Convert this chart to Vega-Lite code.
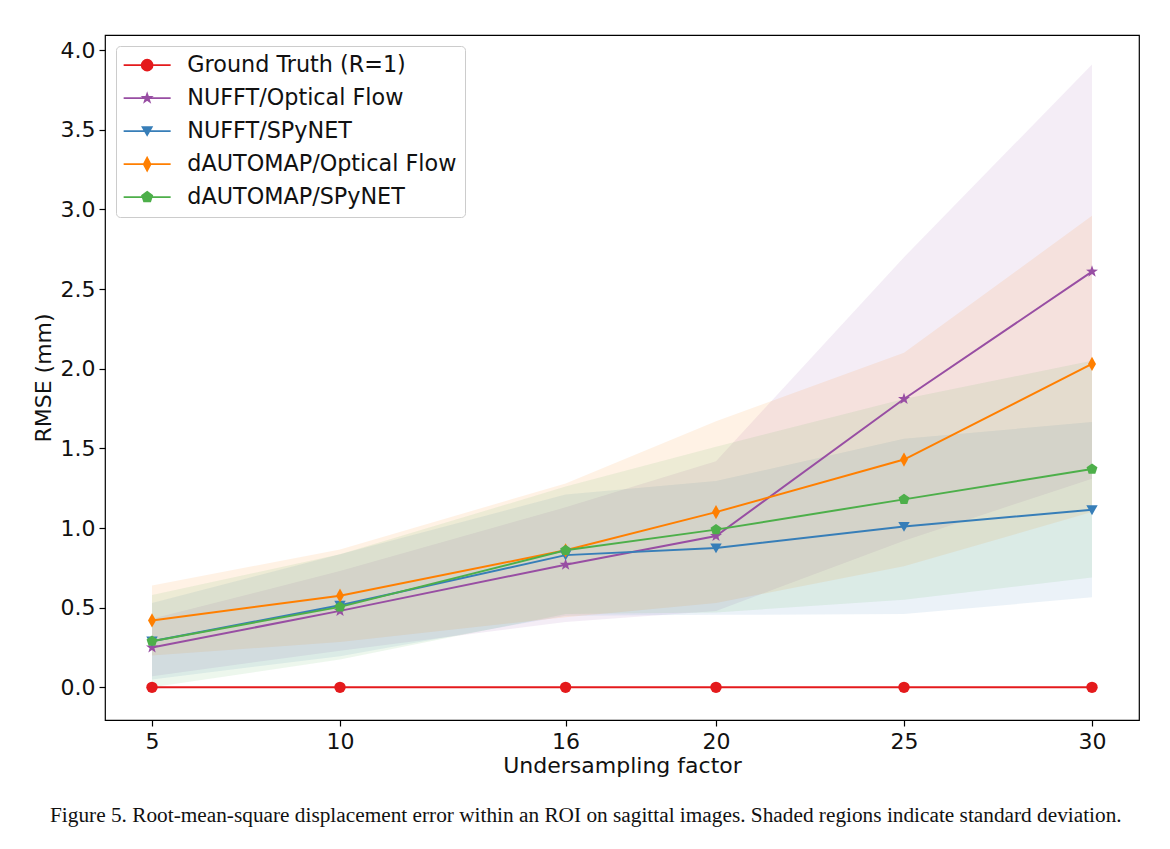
{
  "$schema": "https://vega.github.io/schema/vega-lite/v6.json",
  "width": 1034,
  "height": 685,
  "autosize": {"type": "none"},
  "padding": {"left": 105, "top": 35, "right": 31, "bottom": 129},
  "background": "white",
  "title": {
    "text": "Figure 5. Root-mean-square displacement error within an ROI on sagittal images. Shaded regions indicate standard deviation.",
    "orient": "bottom",
    "anchor": "start",
    "frame": "group",
    "dx": -55,
    "offset": 29,
    "font": "Liberation Serif",
    "fontSize": 21.3,
    "fontWeight": "normal",
    "color": "#111111"
  },
  "config": {
    "view": {"stroke": "black", "strokeWidth": 1.2},
    "axis": {
      "labelFont": "DejaVu Sans",
      "labelFontSize": 22,
      "labelColor": "#111111",
      "titleFont": "DejaVu Sans",
      "titleFontSize": 22,
      "titleFontWeight": "normal",
      "titleColor": "#111111",
      "tickColor": "black",
      "tickSize": 6,
      "tickWidth": 1.2,
      "domain": false,
      "grid": false
    }
  },
  "resolve": {"legend": {"color": "independent", "shape": "independent"}},
  "data": {
    "values": [
      {"series": "Ground Truth (R=1)", "x": 5, "mean": 0, "lo": 0, "hi": 0},
      {"series": "Ground Truth (R=1)", "x": 10, "mean": 0, "lo": 0, "hi": 0},
      {"series": "Ground Truth (R=1)", "x": 16, "mean": 0, "lo": 0, "hi": 0},
      {"series": "Ground Truth (R=1)", "x": 20, "mean": 0, "lo": 0, "hi": 0},
      {"series": "Ground Truth (R=1)", "x": 25, "mean": 0, "lo": 0, "hi": 0},
      {"series": "Ground Truth (R=1)", "x": 30, "mean": 0, "lo": 0, "hi": 0},
      {"series": "NUFFT/Optical Flow", "x": 5, "mean": 0.25, "lo": 0.07, "hi": 0.43},
      {"series": "NUFFT/Optical Flow", "x": 10, "mean": 0.48, "lo": 0.23, "hi": 0.73},
      {"series": "NUFFT/Optical Flow", "x": 16, "mean": 0.77, "lo": 0.41, "hi": 1.13},
      {"series": "NUFFT/Optical Flow", "x": 20, "mean": 0.95, "lo": 0.48, "hi": 1.42},
      {"series": "NUFFT/Optical Flow", "x": 25, "mean": 1.81, "lo": 0.92, "hi": 2.7},
      {"series": "NUFFT/Optical Flow", "x": 30, "mean": 2.61, "lo": 1.31, "hi": 3.91},
      {"series": "NUFFT/SPyNET", "x": 5, "mean": 0.29, "lo": 0.05, "hi": 0.53},
      {"series": "NUFFT/SPyNET", "x": 10, "mean": 0.515, "lo": 0.195, "hi": 0.835},
      {"series": "NUFFT/SPyNET", "x": 16, "mean": 0.83, "lo": 0.45, "hi": 1.21},
      {"series": "NUFFT/SPyNET", "x": 20, "mean": 0.875, "lo": 0.455, "hi": 1.295},
      {"series": "NUFFT/SPyNET", "x": 25, "mean": 1.01, "lo": 0.46, "hi": 1.56},
      {"series": "NUFFT/SPyNET", "x": 30, "mean": 1.115, "lo": 0.565, "hi": 1.665},
      {"series": "dAUTOMAP/Optical Flow", "x": 5, "mean": 0.42, "lo": 0.2, "hi": 0.64},
      {"series": "dAUTOMAP/Optical Flow", "x": 10, "mean": 0.575, "lo": 0.285, "hi": 0.865},
      {"series": "dAUTOMAP/Optical Flow", "x": 16, "mean": 0.86, "lo": 0.44, "hi": 1.28},
      {"series": "dAUTOMAP/Optical Flow", "x": 20, "mean": 1.1, "lo": 0.53, "hi": 1.67},
      {"series": "dAUTOMAP/Optical Flow", "x": 25, "mean": 1.43, "lo": 0.76, "hi": 2.1},
      {"series": "dAUTOMAP/Optical Flow", "x": 30, "mean": 2.03, "lo": 1.1, "hi": 2.96},
      {"series": "dAUTOMAP/SPyNET", "x": 5, "mean": 0.29, "lo": 0.0, "hi": 0.58},
      {"series": "dAUTOMAP/SPyNET", "x": 10, "mean": 0.505, "lo": 0.175, "hi": 0.835},
      {"series": "dAUTOMAP/SPyNET", "x": 16, "mean": 0.86, "lo": 0.46, "hi": 1.26},
      {"series": "dAUTOMAP/SPyNET", "x": 20, "mean": 0.99, "lo": 0.47, "hi": 1.51},
      {"series": "dAUTOMAP/SPyNET", "x": 25, "mean": 1.18, "lo": 0.55, "hi": 1.81},
      {"series": "dAUTOMAP/SPyNET", "x": 30, "mean": 1.37, "lo": 0.69, "hi": 2.05}
    ]
  },
  "encoding": {
    "x": {
      "field": "x",
      "type": "quantitative",
      "scale": {"domain": [3.75, 31.25], "nice": false, "zero": false},
      "axis": {"values": [5, 10, 16, 20, 25, 30], "title": "Undersampling factor", "labelPadding": 5, "titlePadding": 3}
    }
  },
  "layer": [
    {
      "transform": [{"filter": "datum.series !== 'Ground Truth (R=1)'"}],
      "mark": {"type": "area", "opacity": 0.1},
      "encoding": {
        "y": {"field": "lo", "type": "quantitative", "scale": {"domain": [-0.205, 4.095], "nice": false, "zero": false}, "axis": {"values": [0, 0.5, 1, 1.5, 2, 2.5, 3, 3.5, 4], "format": ".1f", "title": "RMSE (mm)", "labelPadding": 4, "titlePadding": 5}},
        "y2": {"field": "hi"},
        "color": {"field": "series", "type": "nominal", "legend": null,
          "scale": {"domain": ["Ground Truth (R=1)", "NUFFT/Optical Flow", "NUFFT/SPyNET", "dAUTOMAP/Optical Flow", "dAUTOMAP/SPyNET"], "range": ["#e41a1c", "#984ea3", "#377eb8", "#ff7f00", "#4daf4a"]}}
      }
    },
    {
      "mark": {"type": "line", "strokeWidth": 2},
      "encoding": {
        "y": {"field": "mean", "type": "quantitative"},
        "color": {"field": "series", "type": "nominal",
          "legend": {
            "title": null,
            "orient": "top-left",
            "offset": 11,
            "padding": 8,
            "strokeColor": "#cccccc",
            "fillColor": "rgba(255,255,255,0.85)",
            "cornerRadius": 4,
            "labelFont": "DejaVu Sans",
            "labelFontSize": 22.3,
            "labelColor": "#111111",
            "labelOffset": 41,
            "labelLimit": 500,
            "symbolSize": 400,
            "symbolStrokeWidth": 1.6,
            "symbolOpacity": 1,
            "rowPadding": 10,
            "encode": {
              "symbols": {
                "update": {
                  "shape": {"signal": "datum.value === 'Ground Truth (R=1)' ? 'M-1.15,0H3.55M1.75,0A0.55,0.55,0,1,1,0.65,0A0.55,0.55,0,1,1,1.75,0Z' : datum.value === 'NUFFT/Optical Flow' ? 'M-1.15,0H3.55M1.2,-0.447L1.306,-0.143L1.625,-0.139L1.369,0.054L1.463,0.362L1.2,0.179L0.937,0.362L1.031,0.054L0.775,-0.139L1.094,-0.143Z' : datum.value === 'NUFFT/SPyNET' ? 'M-1.15,0H3.55M0.73,-0.4L1.67,-0.4L1.2,0.4Z' : datum.value === 'dAUTOMAP/Optical Flow' ? 'M-1.15,0H3.55M1.2,-0.66L1.55,0L1.2,0.66L0.85,0Z' : 'M-1.15,0H3.55M1.2,-0.54L1.714,-0.167L1.518,0.437L0.882,0.437L0.686,-0.167Z'"},
                  "fill": {"scale": "color", "field": "value"},
                  "stroke": {"scale": "color", "field": "value"},
                  "strokeWidth": {"value": 1.6},
                  "opacity": {"value": 1},
                  "fillOpacity": {"value": 1},
                  "strokeOpacity": {"value": 1}
                }
              }
            }
          }
        }
      }
    },
    {
      "mark": {"type": "point", "filled": true, "opacity": 1, "size": 130},
      "encoding": {
        "y": {"field": "mean", "type": "quantitative"},
        "color": {"field": "series", "type": "nominal", "legend": null},
        "shape": {
          "field": "series",
          "type": "nominal",
          "legend": null,
          "scale": {
            "domain": ["Ground Truth (R=1)", "NUFFT/Optical Flow", "NUFFT/SPyNET", "dAUTOMAP/Optical Flow", "dAUTOMAP/SPyNET"],
            "range": [
              "circle",
              "M0,-1.1L0.26,-0.35L1.05,-0.34L0.42,0.13L0.65,0.89L0,0.44L-0.65,0.89L-0.42,0.13L-1.05,-0.34L-0.26,-0.35Z",
              "M-1,-0.8L1,-0.8L0,0.95Z",
              "M0,-1.25L0.7,0L0,1.25L-0.7,0Z",
              "M0,-1L0.951,-0.309L0.588,0.809L-0.588,0.809L-0.951,-0.309Z"
            ]
          }
        }
      }
    }
  ]
}
